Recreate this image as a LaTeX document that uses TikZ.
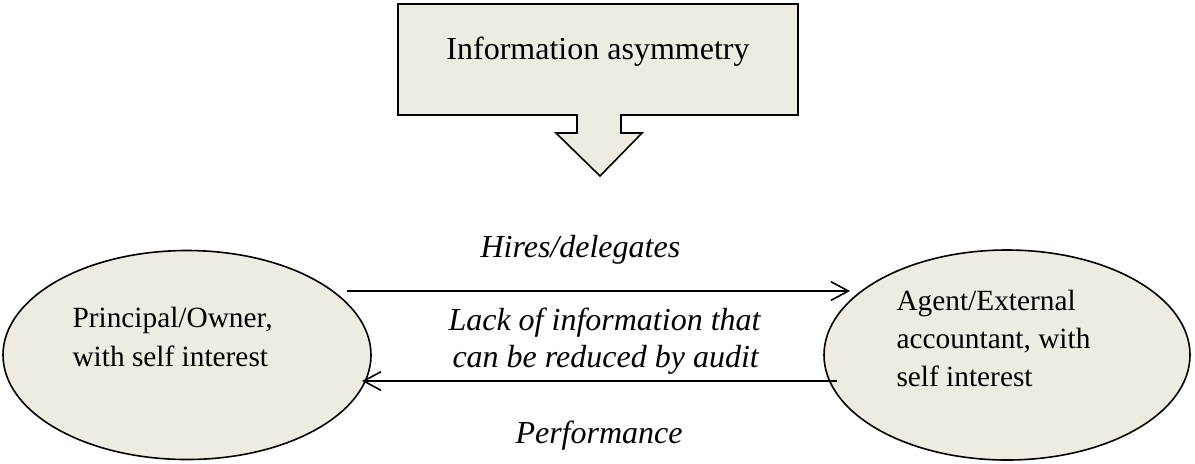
\documentclass[tikz,border=0pt]{standalone}
\usepackage{fontspec}
\setmainfont{Liberation Serif}
\usetikzlibrary{arrows.meta,calc,shapes.geometric}
\definecolor{beige}{HTML}{EEECE1}
\tikzset{
  shapeline/.style={draw=black, line width=0.6pt, fill=beige},
  ellnode/.style={shapeline, ellipse, inner sep=0pt},
  txt/.style={font=\fontsize{12pt}{14pt}\selectfont, inner sep=0pt, anchor=base west},
  stxt/.style={txt, font=\fontsize{11pt}{13pt}\selectfont},
  itxt/.style={txt, font=\fontsize{12pt}{14pt}\selectfont\itshape},
  arr/.style={line width=0.6pt, -{Straight Barb[length=6.5pt,width=7pt,line width=0.6pt]}}
}
\begin{document}
\begin{tikzpicture}[x=0.375pt,y=-0.375pt]
\useasboundingbox (0,0) rectangle (1195,463);
% callout
\draw[shapeline, line join=miter] (398,4) -- (798,4) -- (798,115) -- (621,115) -- (621,133) -- (642,133) -- (600,176) -- (556,133) -- (577,133) -- (577,115) -- (398,115) -- cycle;
\node[txt, anchor=base] (ia) at (598,59) {Information asymmetry};
% ellipses
\node[ellnode, minimum width=368*0.375pt, minimum height=209*0.375pt] (L) at (187,355) {};
\node[ellnode, minimum width=366*0.375pt, minimum height=210*0.375pt] (R) at (1007,355) {};
\node[stxt] (lt1) at (72,327) {Principal/Owner,};
\node[stxt] (lt2) at (72,366) {with self interest};
\node[stxt] (rt1) at (896,310) {Agent/External};
\node[stxt] (rt2) at (896,348) {accountant, with};
\node[stxt] (rt3) at (896,386) {self interest};
% labels
\node[itxt] (hd) at (480,257) {Hires/delegates};
\node[itxt] (lk1) at (448,330) {Lack of information that};
\node[itxt] (lk2) at (452,367) {can be reduced by audit};
\node[itxt] (pf) at (515,443) {Performance};
% arrows
\coordinate (a1) at ($(L.center)+(160,-64)$);
\coordinate (a2) at ($(R.center)+(-157,-64)$);
\coordinate (b1) at ($(R.center)+(-170,26)$);
\coordinate (b2) at ($(L.center)+(175,26)$);
\draw[arr] (a1) -- (a2);
\draw[arr] (b1) -- (b2);
\end{tikzpicture}
\end{document}
